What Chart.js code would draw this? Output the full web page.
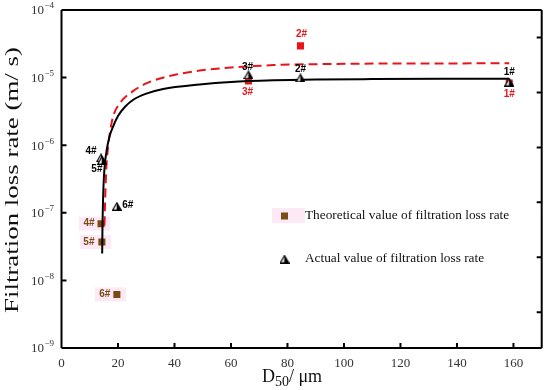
<!DOCTYPE html>
<html><head><meta charset="utf-8">
<script src="https://cdn.jsdelivr.net/npm/chart.js@4.4.1/dist/chart.umd.min.js"></script>
<style>html,body{margin:0;padding:0;background:#fff}#wrap{width:550px;height:390px;position:relative}</style>
</head><body><div id="wrap"><canvas id="c"></canvas></div>
<script>
// ---- data ----
const sampleLabels = ['1#','2#','3#','4#','5#','6#'];
const d50 = [158.5, 84.6, 66.2, 14.0, 14.3, 19.6];
const theoreticalRate = [8.3e-6, 2.95e-5, 8.9e-6, 6.9e-8, 3.7e-8, 6.2e-9];
const actualRate = [8.6e-6, 9.9e-6, 1.1e-5, 6.5e-7, 6.0e-7, 1.25e-7];
const actualFitX = [14.4, 14.5, 14.7, 15.0, 15.5, 16.0, 17.0, 18.3, 20.0, 22.5, 25.4, 30, 36, 48.9, 60, 75, 90, 110, 135, 158.5];
const actualFitY = [2.5e-8, 6e-8, 1.5e-7, 3.3e-7, 6.0e-7, 8.5e-7, 1.35e-6, 1.9e-6, 2.7e-6, 3.7e-6, 4.7e-6, 5.8e-6, 6.8e-6, 7.9e-6, 8.6e-6, 9.1e-6, 9.35e-6, 9.5e-6, 9.6e-6, 9.65e-6];
const theoryFitX = [15.2, 15.4, 15.6, 15.9, 16.5, 17.1, 18.2, 20.7, 25.3, 30, 34.8, 41, 48.9, 60, 75, 90, 110, 135, 158.5];
const theoryFitY = [6.5e-8, 1.3e-7, 2.4e-7, 4.8e-7, 9.5e-7, 1.5e-6, 2.6e-6, 4.2e-6, 6.3e-6, 8.2e-6, 9.7e-6, 1.12e-5, 1.27e-5, 1.41e-5, 1.53e-5, 1.58e-5, 1.61e-5, 1.62e-5, 1.63e-5];
const xTicks = [0, 20, 40, 60, 80, 100, 120, 140, 160];
const yTickExponents = [-9, -8, -7, -6, -5, -4];
const rightTicks = [0, 1, 2, 3, 4, 5];
const xTitleParts = ['D', '50', '/ \u03bcm'];
const yTitle = 'Filtration loss rate (m/ s)';
const legendLabels = ['Theoretical value of filtration loss rate', 'Actual value of filtration loss rate'];

// ---- styles ----
const RED = '#e8141b', BROWN = '#7a4b12', PINK = '#fde8f6';
const SERIF = '"Liberation Serif", "DejaVu Serif", serif';
const SANS = '"Liberation Sans", Arial, sans-serif';

function triangleImage() {
  const c = document.createElement('canvas');
  c.width = 10; c.height = 9;
  const g = c.getContext('2d');
  g.lineWidth = 1.2; g.strokeStyle = '#000'; g.fillStyle = '#fff';
  g.beginPath(); g.moveTo(5, 1); g.lineTo(9.2, 8.3); g.lineTo(0.8, 8.3); g.closePath();
  g.fill(); g.stroke();
  g.fillStyle = '#000';
  g.beginPath(); g.moveTo(5, 1); g.lineTo(9.2, 8.3); g.lineTo(4.6, 8.3); g.closePath(); g.fill();
  return c;
}
const triImg = triangleImage();

const theoColors = [RED, RED, RED, BROWN, BROWN, BROWN];
const labelStyle = {
  0: { // theoretical
    colors: theoColors,
    off: [[0, 11], [1, -12], [-1, 11], [-12, 0], [-13, 0], [-12, 0]],
    pink: [false, false, false, true, true, true]
  },
  1: { // actual
    colors: ['#000','#000','#000','#000','#000','#000'],
    off: [[0, -10], [0, -9], [-1, -8], [-10, -7], [-5, 9], [11, -1]],
    pink: [false, false, false, false, false, false]
  }
};

const pts = (xs, ys) => xs.map((x, i) => ({ x, y: ys[i] }));

const framePlugin = {
  id: 'frame',
  beforeDatasetsDraw(chart) {
    const ctx = chart.ctx;
    const meta = chart.getDatasetMeta(0);
    ctx.save();
    ctx.fillStyle = PINK;
    meta.data.forEach((el, i) => {
      if (labelStyle[0].pink[i]) ctx.fillRect(el.x - 22, el.y - 7, 31, 14);
    });
    ctx.fillRect(272, 208, 33, 15);
    ctx.restore();
  },
  afterDraw(chart) {
    const ctx = chart.ctx, a = chart.chartArea;
    const xs = chart.scales.x, ys = chart.scales.y, yr = chart.scales.yR;
    ctx.save();
    ctx.strokeStyle = '#000'; ctx.lineWidth = 2;
    ctx.beginPath();
    ctx.moveTo(a.left, a.top); ctx.lineTo(a.right, a.top);
    ctx.moveTo(a.left, a.top); ctx.lineTo(a.left, a.bottom);
    ctx.moveTo(a.left, a.bottom); ctx.lineTo(a.right, a.bottom);
    ctx.moveTo(a.right, a.top); ctx.lineTo(a.right, a.bottom);
    xTicks.forEach(v => { if (v === 0) return; const p = xs.getPixelForValue(v); ctx.moveTo(p, a.bottom); ctx.lineTo(p, a.bottom - 5); });
    yTickExponents.forEach(e => { const p = ys.getPixelForValue(Math.pow(10, e)); ctx.moveTo(a.left, p); ctx.lineTo(a.left + 5, p); });
    rightTicks.forEach(v => { const p = yr.getPixelForValue(v); ctx.moveTo(a.right, p); ctx.lineTo(a.right - 5, p); });
    ctx.stroke();

    // y tick labels 10^e
    ctx.fillStyle = '#333';
    yTickExponents.forEach(e => {
      const p = ys.getPixelForValue(Math.pow(10, e));
      ctx.font = '13px ' + SERIF; ctx.textAlign = 'right'; ctx.textBaseline = 'middle';
      ctx.fillText('10', 44, p + 1);
      ctx.font = '9px ' + SERIF; ctx.textAlign = 'left';
      ctx.fillText('\u2212' + Math.abs(e), 44.5, p - 4);
    });

    // y title (stretched along its length like the reference)
    ctx.save();
    ctx.fillStyle = '#111';
    ctx.translate(13, (a.top + a.bottom) / 2 + 1);
    ctx.rotate(-Math.PI / 2);
    ctx.font = '19px ' + SERIF; ctx.textAlign = 'center'; ctx.textBaseline = 'middle';
    const wt = ctx.measureText(yTitle).width;
    ctx.scale(266 / wt, 1);
    ctx.fillText(yTitle, 0, 0);
    ctx.restore();

    // x title with subscript
    ctx.fillStyle = '#111'; ctx.textBaseline = 'alphabetic'; ctx.textAlign = 'left';
    const f1 = '18px ' + SERIF, f2 = '14px ' + SERIF;
    ctx.font = f1; const w0 = ctx.measureText(xTitleParts[0]).width, w2 = ctx.measureText(xTitleParts[2]).width;
    ctx.font = f2; const w1 = ctx.measureText(xTitleParts[1]).width;
    let x0 = 292 - (w0 + w1 + w2) / 2, base = 382;
    ctx.font = f1; ctx.fillText(xTitleParts[0], x0, base);
    ctx.font = f2; ctx.fillText(xTitleParts[1], x0 + w0, base + 4);
    ctx.font = f1; ctx.fillText(xTitleParts[2], x0 + w0 + w1, base);

    // point labels
    ctx.font = 'bold 10px ' + SANS; ctx.textAlign = 'center'; ctx.textBaseline = 'middle';
    [0, 1].forEach(di => {
      const m = chart.getDatasetMeta(di);
      m.data.forEach((el, i) => {
        const st = labelStyle[di];
        ctx.fillStyle = st.colors[i];
        ctx.fillText(sampleLabels[i], el.x + st.off[i][0], el.y + st.off[i][1]);
      });
    });

    // legend
    ctx.font = '13.3px ' + SERIF; ctx.textAlign = 'left'; ctx.textBaseline = 'middle';
    ctx.fillStyle = BROWN; ctx.fillRect(281, 212.5, 7, 7);
    ctx.fillStyle = '#111'; ctx.fillText(chart.data.datasets[0].label, 305, 216);
    ctx.drawImage(triImg, 279.5, 254.5);
    ctx.fillText(chart.data.datasets[1].label, 305, 259);
    ctx.restore();
  }
};

new Chart(document.getElementById('c'), {
  type: 'scatter',
  data: {
    datasets: [
      { label: legendLabels[0], data: pts(d50, theoreticalRate), pointStyle: 'rect', pointRadius: 5,
        pointBackgroundColor: theoColors, pointBorderColor: theoColors, pointBorderWidth: 0, showLine: false, order: 3 },
      { label: legendLabels[1], data: pts(d50, actualRate), pointStyle: triImg, pointRadius: 5, showLine: false, order: 0 },
      { label: 'actual fit', data: pts(actualFitX, actualFitY), showLine: true, borderColor: '#000', borderWidth: 2,
        pointRadius: 0, cubicInterpolationMode: 'monotone', order: 1 },
      { label: 'theory fit', data: pts(theoryFitX, theoryFitY), showLine: true, borderColor: RED, borderWidth: 2,
        borderDash: [9, 5], pointRadius: 0, cubicInterpolationMode: 'monotone', order: 2 }
    ]
  },
  options: {
    responsive: true, maintainAspectRatio: false, animation: false,
    layout: { padding: { top: 10, left: 0, right: 0, bottom: 0 } },
    plugins: { legend: { display: false }, tooltip: { enabled: false } },
    scales: {
      x: {
        type: 'linear', min: 0, max: 170,
        afterBuildTicks: s => { s.ticks = xTicks.map(v => ({ value: v })); },
        afterFit: s => { s.height = 42; },
        grid: { display: false, drawTicks: false },
        border: { display: false },
        ticks: { font: { family: SERIF, size: 13 }, color: '#333', padding: 8, maxRotation: 0 }
      },
      y: {
        type: 'logarithmic', min: 1e-9, max: 1e-4,
        afterBuildTicks: s => { s.ticks = yTickExponents.map(e => ({ value: Math.pow(10, e) })); },
        afterFit: s => { s.width = 61.5; },
        grid: { display: false, drawTicks: false },
        border: { display: false },
        ticks: { display: false },
        title: { display: false }
      },
      yR: {
        type: 'linear', position: 'right', min: -0.65, max: 5.5,
        afterBuildTicks: s => { s.ticks = rightTicks.map(v => ({ value: v })); },
        afterFit: s => { s.width = 8.3; },
        grid: { display: false, drawTicks: false },
        border: { display: false },
        ticks: { display: false }
      }
    }
  },
  plugins: [framePlugin]
});
</script></body></html>
